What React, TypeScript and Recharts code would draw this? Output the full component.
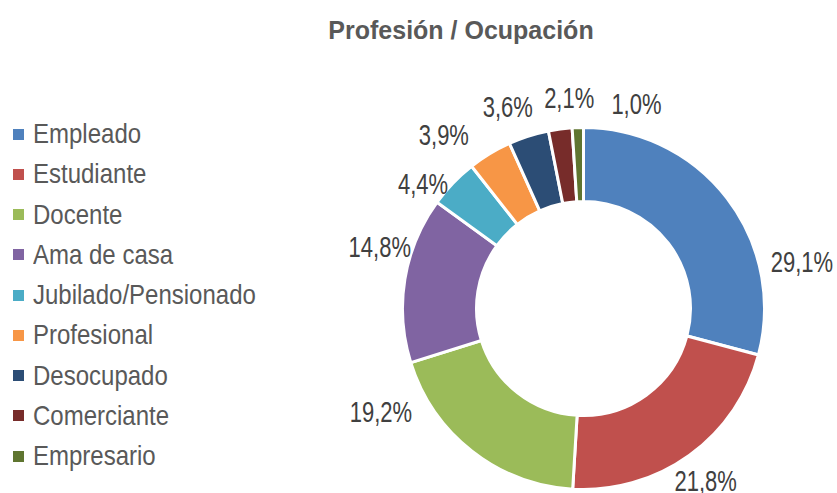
import React from "react";
import { PieChart, Pie, Cell, Legend } from "recharts";

const categories = [
  "Empleado",
  "Estudiante",
  "Docente",
  "Ama de casa",
  "Jubilado/Pensionado",
  "Profesional",
  "Desocupado",
  "Comerciante",
  "Empresario",
];
const values = [29.1, 21.8, 19.2, 14.8, 4.4, 3.9, 3.6, 2.1, 1.0];
const colors = [
  "#4F81BD",
  "#C0504D",
  "#9BBB59",
  "#8064A2",
  "#4BACC6",
  "#F79646",
  "#2C4D75",
  "#772C2A",
  "#5F7530",
];
const title = "Profesión / Ocupación";

const data = categories.map((name, i) => ({ name, value: values[i] }));

// label layout tweaks (clockwise angle shift in degrees, radius in px)
const LABEL_SHIFT = [25.4, 0.5, 24.9, 7.7, -5.9, -7.6, -2.9, 3.5, 16.3];
const LABEL_RADIUS = [223.5, 211, 227.5, 213, 203.5, 223, 215.5, 211, 211.5];
const RAD = Math.PI / 180;
const FONT = "'Liberation Sans', Arial, sans-serif";
const LABEL_SIZE = 22;

const renderLabel = (props: any) => {
  const { cx, cy, midAngle, index, value } = props;
  const a = (midAngle - LABEL_SHIFT[index]) * RAD;
  const r = LABEL_RADIUS[index];
  const x = cx + r * Math.cos(a);
  const y = cy - r * Math.sin(a);
  return (
    <text
      x={0}
      y={LABEL_SIZE * 0.358}
      transform={`translate(${x},${y}) scale(1,1.3)`}
      textAnchor="middle"
      fill="#404040"
      fontSize={LABEL_SIZE}
      fontFamily={FONT}
    >
      {Number(value).toFixed(1).replace(".", ",") + "%"}
    </text>
  );
};

const renderLegend = () => (
  <div style={{ fontFamily: FONT }}>
    {categories.map((c, i) => (
      <div
        key={c}
        style={{
          height: 40.25,
          display: "flex",
          alignItems: "center",
          fontSize: 24,
          color: "#595959",
          whiteSpace: "nowrap",
        }}
      >
        <span
          style={{
            display: "inline-block",
            width: 11,
            height: 11,
            background: colors[i],
            marginRight: 9,
          }}
        />
        <span style={{ display: "inline-block", transform: "scaleY(1.18)", transformOrigin: "50% 50%" }}>{c}</span>
      </div>
    ))}
  </div>
);

export default function App() {
  return (
    <div style={{ position: "absolute", left: 0, top: 0, width: 837, height: 493, background: "#fff" }}>
      <PieChart width={837} height={493} margin={{ top: 0, right: 0, bottom: 0, left: 0 }}>
        <text
          x={461}
          y={39}
          textAnchor="middle"
          fill="#595959"
          fontSize={25}
          fontWeight="bold"
          fontFamily={FONT}
        >
          {title}
        </text>
        <Pie
          data={data}
          dataKey="value"
          nameKey="name"
          cx={583.5}
          cy={308.5}
          innerRadius={107}
          outerRadius={181}
          startAngle={90}
          endAngle={-270}
          stroke="#ffffff"
          strokeWidth={3}
          label={renderLabel}
          labelLine={false}
          isAnimationActive={false}
        >
          {data.map((d, i) => (
            <Cell key={d.name} fill={colors[i]} />
          ))}
        </Pie>
        <Legend
          layout="vertical"
          align="right"
          verticalAlign="top"
          content={renderLegend}
          wrapperStyle={{ left: 13, right: "auto", top: 114, width: 300 }}
        />
      </PieChart>
    </div>
  );
}
